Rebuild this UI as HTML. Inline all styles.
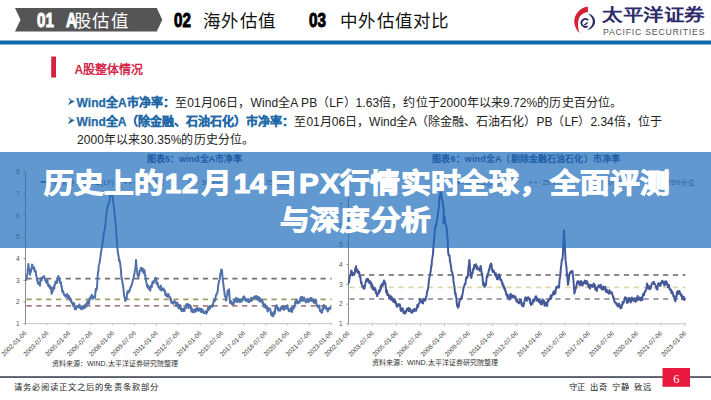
<!DOCTYPE html>
<html lang="zh-CN"><head><meta charset="utf-8">
<style>
*{margin:0;padding:0;box-sizing:border-box}
html,body{width:711px;height:400px;overflow:hidden;background:#fff}
body{position:relative;font-family:"Liberation Sans",sans-serif;color:#222}
.a{position:absolute;white-space:nowrap}
.yl{font-size:6.5px;fill:#555;font-family:"Liberation Sans",sans-serif}
.xl{font-size:6.4px;fill:#444;font-family:"Liberation Sans",sans-serif}
.tab{font-size:17.5px;letter-spacing:1.3px;color:#111;line-height:20px}
.num{font-weight:bold;font-size:20px;line-height:20px;transform:scaleX(0.76);transform-origin:left;-webkit-text-stroke:1px currentColor}
.bl{font-size:12px;line-height:19px;color:#222;letter-spacing:0.08px}
.bl b{color:#1f69a6;-webkit-text-stroke:0.25px #1f69a6}
.arr{color:#1f69a6;font-size:10px}
#band{position:absolute;left:0;top:152px;width:711px;height:95.5px;background:rgba(30,108,188,0.7)}
.tt1{position:absolute;left:0;width:711px;height:37px;color:#fff;font-weight:bold;font-size:27px;line-height:37px;-webkit-text-stroke:1px #fff}
.tt1 span{position:absolute;top:0;width:40px;text-align:center;transform:scaleX(1.1)}
.tt{position:absolute;left:0;width:711px;text-align:center;color:#fff;font-weight:bold;font-size:27px;line-height:37px;-webkit-text-stroke:1px #fff;transform:scaleX(1.1);letter-spacing:0.4px}
</style></head><body>
<svg class="a" style="left:0;top:0" width="711" height="400" viewBox="0 0 711 400">
<polygon points="15,8 156.8,8 162.3,19.7 156.8,31.5 15,31.5 20.5,19.7" fill="#555555"/>
<rect x="0" y="40.5" width="711" height="4" fill="#0f67ac"/>
<path d="M587.8,6.5 C579,8 574,15 574.3,22 C574.6,27.5 577.5,31 579.5,33 C577.8,28 577.2,22 579.5,17 C581.5,13.8 584.8,12.3 588,12 Z" fill="#d42035"/>
<path d="M588,13.5 C592.5,14.5 595.5,18 595,22.5 C594.5,26.5 591,29.5 587,30 C590,28 592.5,25.5 592.8,22 C593,18.5 591,16 588,13.5 Z" fill="#262a66"/>
<path d="M588.2,20.2 A3.9,3.9 0 1 0 587.6,26.2" fill="none" stroke="#262a66" stroke-width="1.8"/>
<path d="M584.3,25.2 L587.5,22.5" stroke="#262a66" stroke-width="1.5"/>
<rect x="51.2" y="56.5" width="4.8" height="21" fill="#d8213f"/>
<path d="M67.6,97.2 L74.8,101.3 L70.3,101.6 Z" fill="#6f9cc0"/><path d="M70.3,101.1 L74.8,101.3 L67.8,105.3 Z" fill="#1d5a88"/>
<path d="M67.6,116.2 L74.8,120.3 L70.3,120.6 Z" fill="#6f9cc0"/><path d="M70.3,120.1 L74.8,120.3 L67.8,124.3 Z" fill="#1d5a88"/>
<line x1="25.5" y1="172" x2="25.5" y2="323.6" stroke="#8c8c8c" stroke-width="1"/>
<line x1="25.5" y1="323.6" x2="332" y2="323.6" stroke="#c4c4c4" stroke-width="1"/>
<line x1="23.5" y1="323.6" x2="25.5" y2="323.6" stroke="#8c8c8c" stroke-width="1"/>
<text x="19.5" y="325.9" text-anchor="end" class="yl">1</text>
<line x1="23.5" y1="301.9" x2="25.5" y2="301.9" stroke="#8c8c8c" stroke-width="1"/>
<text x="19.5" y="304.2" text-anchor="end" class="yl">2</text>
<line x1="23.5" y1="280.3" x2="25.5" y2="280.3" stroke="#8c8c8c" stroke-width="1"/>
<text x="19.5" y="282.6" text-anchor="end" class="yl">3</text>
<line x1="23.5" y1="258.6" x2="25.5" y2="258.6" stroke="#8c8c8c" stroke-width="1"/>
<text x="19.5" y="260.9" text-anchor="end" class="yl">4</text>
<line x1="23.5" y1="237.0" x2="25.5" y2="237.0" stroke="#8c8c8c" stroke-width="1"/>
<text x="19.5" y="239.3" text-anchor="end" class="yl">5</text>
<line x1="23.5" y1="215.3" x2="25.5" y2="215.3" stroke="#8c8c8c" stroke-width="1"/>
<text x="19.5" y="217.6" text-anchor="end" class="yl">6</text>
<line x1="23.5" y1="193.7" x2="25.5" y2="193.7" stroke="#8c8c8c" stroke-width="1"/>
<text x="19.5" y="196.0" text-anchor="end" class="yl">7</text>
<line x1="23.5" y1="172.0" x2="25.5" y2="172.0" stroke="#8c8c8c" stroke-width="1"/>
<text x="19.5" y="174.3" text-anchor="end" class="yl">8</text>
<line x1="25.3" y1="323.6" x2="25.3" y2="325.6" stroke="#c4c4c4" stroke-width="1"/>
<text transform="translate(27.1,333.6) rotate(-45)" text-anchor="end" class="xl">2002-01-06</text>
<line x1="47.2" y1="323.6" x2="47.2" y2="325.6" stroke="#c4c4c4" stroke-width="1"/>
<text transform="translate(49.0,333.6) rotate(-45)" text-anchor="end" class="xl">2003-07-06</text>
<line x1="69.0" y1="323.6" x2="69.0" y2="325.6" stroke="#c4c4c4" stroke-width="1"/>
<text transform="translate(70.8,333.6) rotate(-45)" text-anchor="end" class="xl">2005-01-06</text>
<line x1="90.9" y1="323.6" x2="90.9" y2="325.6" stroke="#c4c4c4" stroke-width="1"/>
<text transform="translate(92.7,333.6) rotate(-45)" text-anchor="end" class="xl">2006-07-06</text>
<line x1="112.7" y1="323.6" x2="112.7" y2="325.6" stroke="#c4c4c4" stroke-width="1"/>
<text transform="translate(114.5,333.6) rotate(-45)" text-anchor="end" class="xl">2008-01-06</text>
<line x1="134.6" y1="323.6" x2="134.6" y2="325.6" stroke="#c4c4c4" stroke-width="1"/>
<text transform="translate(136.4,333.6) rotate(-45)" text-anchor="end" class="xl">2009-07-06</text>
<line x1="156.5" y1="323.6" x2="156.5" y2="325.6" stroke="#c4c4c4" stroke-width="1"/>
<text transform="translate(158.3,333.6) rotate(-45)" text-anchor="end" class="xl">2011-01-06</text>
<line x1="178.3" y1="323.6" x2="178.3" y2="325.6" stroke="#c4c4c4" stroke-width="1"/>
<text transform="translate(180.1,333.6) rotate(-45)" text-anchor="end" class="xl">2012-07-06</text>
<line x1="200.2" y1="323.6" x2="200.2" y2="325.6" stroke="#c4c4c4" stroke-width="1"/>
<text transform="translate(202.0,333.6) rotate(-45)" text-anchor="end" class="xl">2014-01-06</text>
<line x1="222.0" y1="323.6" x2="222.0" y2="325.6" stroke="#c4c4c4" stroke-width="1"/>
<text transform="translate(223.8,333.6) rotate(-45)" text-anchor="end" class="xl">2015-07-06</text>
<line x1="243.9" y1="323.6" x2="243.9" y2="325.6" stroke="#c4c4c4" stroke-width="1"/>
<text transform="translate(245.7,333.6) rotate(-45)" text-anchor="end" class="xl">2017-01-06</text>
<line x1="265.8" y1="323.6" x2="265.8" y2="325.6" stroke="#c4c4c4" stroke-width="1"/>
<text transform="translate(267.6,333.6) rotate(-45)" text-anchor="end" class="xl">2018-07-06</text>
<line x1="287.6" y1="323.6" x2="287.6" y2="325.6" stroke="#c4c4c4" stroke-width="1"/>
<text transform="translate(289.4,333.6) rotate(-45)" text-anchor="end" class="xl">2020-01-06</text>
<line x1="309.5" y1="323.6" x2="309.5" y2="325.6" stroke="#c4c4c4" stroke-width="1"/>
<text transform="translate(311.3,333.6) rotate(-45)" text-anchor="end" class="xl">2021-07-06</text>
<line x1="331.3" y1="323.6" x2="331.3" y2="325.6" stroke="#c4c4c4" stroke-width="1"/>
<text transform="translate(333.1,333.6) rotate(-45)" text-anchor="end" class="xl">2023-01-06</text>
<line x1="26.5" y1="278.7" x2="331.5" y2="278.7" stroke="#707070" stroke-width="1.8" stroke-dasharray="5.2,4.6"/>
<line x1="26.5" y1="299.3" x2="331.5" y2="299.3" stroke="#a39a62" stroke-width="1.8" stroke-dasharray="5.2,4.6"/>
<line x1="26.5" y1="305.8" x2="331.5" y2="305.8" stroke="#a88080" stroke-width="1.8" stroke-dasharray="5.2,4.6"/>
<polyline points="26.0,280.7 26.4,279.3 26.8,276.3 27.2,274.8 27.6,272.7 28.0,267.7 28.4,264.0 28.8,269.1 29.2,269.0 29.6,269.9 30.0,274.8 30.4,272.1 30.8,272.0 31.2,269.3 31.6,268.2 32.0,264.6 32.4,264.8 32.8,267.3 33.1,267.2 33.5,268.8 33.9,269.6 34.3,267.5 34.6,270.8 35.0,271.7 35.4,271.5 35.8,271.0 36.1,275.6 36.5,276.2 36.9,278.4 37.2,280.7 37.6,281.6 38.0,283.7 38.4,281.8 38.8,283.4 39.2,282.5 39.6,284.8 40.0,285.6 40.4,281.0 40.8,278.9 41.2,277.9 41.6,280.5 42.0,278.2 42.4,278.5 42.8,276.9 43.2,277.2 43.6,276.6 44.0,276.1 44.4,277.5 44.8,278.2 45.1,280.2 45.5,280.1 45.9,281.5 46.2,281.9 46.6,282.9 47.0,282.0 47.4,279.9 47.7,283.1 48.1,285.3 48.4,286.3 48.8,285.6 49.1,286.6 49.5,285.1 49.9,288.1 50.2,288.5 50.6,287.8 50.9,287.1 51.3,291.2 51.6,293.8 52.0,291.0 52.4,292.2 52.8,290.2 53.1,287.7 53.5,286.9 53.9,288.4 54.2,288.8 54.6,284.4 55.0,285.0 55.4,281.8 55.8,283.3 56.1,281.3 56.5,282.6 56.9,282.9 57.2,280.0 57.6,280.8 58.0,277.0 58.4,276.0 58.8,278.8 59.1,277.7 59.5,278.7 59.9,280.8 60.2,283.1 60.6,282.4 61.0,282.2 61.4,286.9 61.8,286.6 62.1,290.4 62.5,292.1 62.9,290.9 63.2,291.7 63.6,292.9 64.0,294.7 64.4,294.8 64.8,294.8 65.1,295.1 65.5,296.9 65.9,295.5 66.2,294.7 66.6,295.9 67.0,294.1 67.4,294.4 67.8,298.1 68.1,297.6 68.5,298.0 68.9,296.0 69.2,297.6 69.6,299.4 70.0,297.7 70.4,300.2 70.8,301.5 71.1,299.6 71.5,301.9 71.9,302.3 72.2,303.8 72.6,303.1 73.0,304.8 73.4,306.1 73.8,303.5 74.1,303.1 74.5,306.4 74.9,309.3 75.2,307.3 75.6,308.0 76.0,309.3 76.4,307.9 76.8,307.3 77.1,306.7 77.5,306.4 77.9,307.2 78.2,305.8 78.6,305.5 79.0,307.0 79.4,304.4 79.8,306.4 80.1,308.1 80.5,306.9 80.9,306.3 81.2,309.2 81.6,307.7 82.0,307.2 82.4,307.7 82.7,308.9 83.1,306.2 83.5,306.1 83.8,305.9 84.2,308.0 84.5,306.6 84.9,307.8 85.3,304.7 85.6,304.2 86.0,305.3 86.4,306.6 86.8,304.7 87.1,302.7 87.5,301.3 87.9,302.5 88.2,301.0 88.6,303.3 89.0,303.9 89.4,299.8 89.8,297.8 90.2,298.8 90.6,297.4 91.0,296.8 91.4,295.7 91.8,294.8 92.2,295.8 92.6,299.0 93.0,298.2 93.4,297.4 93.8,297.0 94.2,296.6 94.6,295.9 95.0,297.8 95.4,292.8 95.8,288.9 96.2,290.6 96.6,289.4 97.0,288.1 97.5,278.3 98.0,272.4 98.4,270.7 98.8,265.2 99.1,264.3 99.5,263.0 99.9,260.6 100.3,257.9 100.7,254.7 101.0,252.6 101.4,250.2 101.8,247.3 102.2,245.7 102.7,241.3 103.1,239.8 103.5,233.2 103.9,233.8 104.2,231.4 104.6,230.0 105.0,227.8 105.4,224.9 105.8,220.4 106.2,214.1 106.6,213.5 107.0,208.6 107.4,206.9 107.8,206.9 108.2,205.2 108.6,203.0 109.0,203.7 109.4,201.2 109.8,198.0 110.1,195.4 110.5,196.3 111.0,193.8 111.5,193.5 112.0,193.8 112.5,194.5 113.0,199.1 113.4,204.4 113.8,204.9 114.2,210.0 114.6,214.4 115.0,217.3 115.3,222.4 115.7,223.5 116.1,230.1 116.4,236.8 116.8,238.7 117.1,243.8 117.5,249.0 117.9,252.5 118.3,254.6 118.7,257.0 119.0,260.8 119.4,259.8 119.8,261.2 120.2,263.9 120.5,266.6 120.9,269.0 121.3,275.9 121.6,279.5 122.0,278.8 122.4,282.2 122.8,284.2 123.2,286.6 123.5,289.4 123.9,293.5 124.3,296.3 124.7,297.5 125.0,298.6 125.4,301.1 125.8,298.7 126.1,299.0 126.5,298.8 126.9,296.2 127.2,292.9 127.6,291.2 128.0,291.3 128.4,292.0 128.7,292.6 129.1,290.4 129.5,291.2 129.9,290.1 130.2,288.3 130.6,286.9 131.0,286.6 131.4,286.4 131.8,284.2 132.1,283.9 132.5,281.9 132.9,279.3 133.3,279.0 133.6,278.9 134.0,275.0 134.4,274.5 134.8,270.9 135.2,269.2 135.6,266.4 136.0,260.1 136.4,265.4 136.7,269.1 137.1,270.1 137.4,273.8 137.8,275.8 138.2,277.0 138.5,275.8 138.9,275.4 139.3,273.9 139.6,271.8 140.0,270.4 140.4,270.0 140.8,267.9 141.2,269.7 141.5,267.8 141.9,268.1 142.3,271.4 142.7,269.3 143.0,269.0 143.4,269.1 143.8,273.2 144.1,271.4 144.5,270.3 144.9,275.2 145.3,274.5 145.6,278.7 146.0,280.4 146.4,282.7 146.8,285.1 147.1,285.1 147.5,287.2 147.9,285.2 148.3,288.0 148.7,288.0 149.2,289.3 149.6,287.1 150.0,289.7 150.3,290.6 150.7,286.3 151.1,285.6 151.4,286.1 151.8,287.0 152.1,284.1 152.4,282.3 152.8,281.6 153.2,282.6 153.5,283.2 153.9,281.6 154.3,280.7 154.7,280.3 155.0,279.7 155.4,279.6 155.8,277.7 156.2,280.0 156.5,283.5 156.9,282.5 157.2,284.3 157.6,282.6 157.9,285.0 158.3,286.7 158.6,287.4 159.0,287.3 159.3,287.1 159.7,288.0 160.1,289.6 160.4,286.8 160.8,285.6 161.1,288.5 161.4,290.5 161.8,289.4 162.2,288.8 162.5,290.1 162.9,288.4 163.3,288.5 163.6,288.5 164.0,290.7 164.4,290.5 164.8,290.4 165.1,292.8 165.5,295.3 165.9,293.3 166.3,294.9 166.7,294.4 167.0,296.7 167.4,296.5 167.8,295.2 168.2,294.9 168.5,294.1 168.9,296.4 169.3,297.1 169.7,296.6 170.0,297.7 170.4,298.2 170.8,300.9 171.1,299.1 171.5,302.9 171.9,302.1 172.2,302.7 172.6,302.6 173.0,303.7 173.4,303.8 173.8,302.3 174.2,301.1 174.6,301.6 175.0,302.1 175.5,301.8 176.0,304.2 176.4,306.0 176.7,304.5 177.1,303.1 177.5,302.8 177.8,305.3 178.2,306.2 178.5,308.1 178.9,308.5 179.3,305.9 179.6,305.0 180.0,305.3 180.4,305.3 180.7,308.0 181.1,309.9 181.5,311.0 181.8,308.5 182.2,310.8 182.5,309.2 182.9,309.4 183.3,311.2 183.6,309.0 184.0,308.5 184.4,311.0 184.8,308.8 185.1,307.8 185.5,308.1 185.9,308.1 186.2,304.4 186.6,304.2 187.0,304.2 187.4,304.9 187.8,304.0 188.1,305.6 188.5,308.1 188.9,306.5 189.2,306.8 189.6,305.0 190.0,305.3 190.4,307.7 190.8,306.2 191.1,309.7 191.5,311.4 191.9,308.4 192.2,311.7 192.6,310.5 193.0,312.3 193.4,312.4 193.8,310.1 194.1,311.0 194.5,311.0 194.9,311.6 195.2,309.0 195.6,310.3 196.0,311.6 196.4,310.8 196.7,310.0 197.1,307.7 197.5,308.8 197.8,308.5 198.2,310.3 198.5,310.7 198.9,310.4 199.3,308.5 199.6,310.2 200.0,310.7 200.4,308.8 200.8,311.7 201.1,311.6 201.5,309.1 201.9,312.2 202.2,309.6 202.6,309.7 203.0,311.6 203.4,312.1 203.7,312.4 204.1,313.2 204.5,312.8 204.9,312.3 205.2,311.7 205.6,311.3 206.0,313.3 206.4,313.6 206.8,312.1 207.2,312.0 207.6,309.6 208.0,307.8 208.4,307.8 208.8,309.9 209.1,306.6 209.5,307.4 209.9,306.3 210.2,308.3 210.6,306.8 211.0,306.1 211.4,305.7 211.8,305.9 212.1,306.8 212.5,304.7 212.9,306.1 213.2,302.7 213.6,301.9 214.0,300.5 214.4,299.1 214.8,301.0 215.2,300.6 215.6,297.1 216.0,295.1 216.4,294.2 216.8,294.3 217.1,293.5 217.5,291.8 217.9,289.3 218.2,285.2 218.6,283.8 219.0,281.2 219.3,280.5 219.7,279.2 220.1,275.6 220.4,273.3 220.8,274.0 221.2,269.5 221.6,270.5 222.0,270.1 222.5,277.4 223.0,281.5 223.5,285.4 224.0,289.5 224.4,291.8 224.8,295.6 225.2,296.8 225.6,296.7 226.0,300.6 226.4,297.9 226.8,296.5 227.2,295.5 227.6,290.7 228.0,291.6 228.5,291.0 229.0,289.3 229.5,296.2 230.0,302.9 230.4,301.7 230.8,303.0 231.2,301.2 231.6,303.0 232.0,304.4 232.4,303.3 232.8,303.1 233.2,304.5 233.6,304.3 234.0,300.2 234.4,302.0 234.7,301.8 235.1,298.9 235.5,299.3 235.8,298.8 236.2,297.8 236.5,299.6 236.9,302.1 237.3,300.0 237.6,301.8 238.0,301.5 238.4,298.7 238.7,301.1 239.1,300.7 239.5,302.0 239.8,301.4 240.2,301.3 240.5,299.2 240.9,300.7 241.3,301.8 241.6,301.7 242.0,299.6 242.4,300.5 242.7,299.6 243.1,297.5 243.5,296.6 243.8,296.4 244.2,297.1 244.5,297.1 244.9,298.8 245.3,300.5 245.6,300.3 246.0,299.8 246.4,300.7 246.7,299.5 247.1,299.9 247.5,301.5 247.8,300.4 248.2,299.0 248.5,302.0 248.9,302.3 249.3,300.7 249.6,300.3 250.0,300.9 250.4,301.3 250.7,299.5 251.1,297.8 251.5,298.0 251.8,300.8 252.2,298.6 252.5,299.3 252.9,298.1 253.3,297.7 253.6,297.3 254.0,298.1 254.4,297.3 254.7,296.3 255.1,296.4 255.5,296.6 255.8,298.3 256.2,296.7 256.5,296.0 256.9,297.8 257.3,298.2 257.6,299.7 258.0,297.1 258.4,298.2 258.7,298.7 259.1,297.3 259.4,301.5 259.8,299.6 260.1,298.5 260.4,300.2 260.8,299.5 261.1,301.6 261.5,301.2 261.9,300.3 262.2,299.9 262.6,303.3 263.0,302.5 263.3,305.0 263.7,304.5 264.1,306.9 264.4,304.9 264.8,304.2 265.2,304.5 265.6,307.6 266.0,308.1 266.4,307.3 266.8,306.2 267.2,308.9 267.6,311.6 268.0,311.1 268.4,308.5 268.8,308.0 269.2,308.5 269.6,309.4 270.0,309.1 270.4,309.3 270.8,312.5 271.2,314.9 271.6,312.6 272.0,315.7 272.4,314.2 272.7,315.2 273.1,316.0 273.4,316.3 273.8,312.0 274.1,311.7 274.5,313.0 274.9,313.5 275.2,308.4 275.6,306.6 276.0,307.5 276.4,305.2 276.7,306.0 277.1,306.2 277.5,308.2 277.9,310.3 278.2,307.7 278.6,309.7 279.0,310.1 279.4,310.6 279.8,309.4 280.2,310.6 280.6,308.3 281.0,307.7 281.4,306.7 281.7,309.0 282.1,308.5 282.5,307.3 282.8,306.5 283.2,308.9 283.6,309.3 283.9,309.9 284.3,308.7 284.7,308.5 285.0,306.7 285.4,308.6 285.7,305.9 286.1,306.9 286.4,308.5 286.8,308.6 287.1,305.7 287.5,305.2 287.9,308.4 288.2,308.8 288.6,310.3 288.9,311.0 289.3,309.5 289.6,311.4 290.0,311.5 290.4,309.6 290.8,309.2 291.2,307.7 291.6,308.8 292.0,312.0 292.4,309.1 292.8,309.7 293.2,307.4 293.6,306.0 294.0,307.9 294.4,306.2 294.8,304.4 295.2,301.7 295.6,301.3 296.0,302.0 296.4,299.5 296.8,299.8 297.2,303.5 297.6,301.4 298.0,302.3 298.4,301.6 298.7,302.9 299.1,302.2 299.4,302.7 299.8,301.4 300.1,299.1 300.5,298.0 300.9,297.2 301.2,300.4 301.6,298.0 302.0,296.7 302.3,300.7 302.7,298.3 303.1,300.8 303.4,297.7 303.8,298.3 304.2,297.6 304.5,300.4 304.9,300.5 305.2,300.8 305.6,301.5 305.9,302.5 306.3,300.4 306.6,301.0 307.0,300.6 307.4,298.7 307.7,301.4 308.1,301.2 308.5,302.1 308.8,299.4 309.2,300.0 309.6,299.8 309.9,300.9 310.3,298.1 310.7,298.6 311.0,299.5 311.4,297.9 311.7,299.7 312.1,301.2 312.4,300.4 312.8,301.2 313.1,301.4 313.5,299.6 313.9,299.9 314.2,303.2 314.6,301.4 315.0,301.4 315.3,299.9 315.7,300.1 316.1,300.1 316.4,304.0 316.8,304.5 317.2,305.7 317.6,307.0 318.0,305.9 318.4,307.3 318.8,306.2 319.2,305.5 319.6,308.6 319.9,310.1 320.2,311.4 320.6,310.3 320.9,311.9 321.3,311.3 321.7,312.8 322.1,312.4 322.5,308.7 322.9,309.9 323.3,306.2 323.7,305.0 324.1,307.6 324.5,306.6 324.9,307.5 325.3,308.4 325.7,306.0 326.1,308.8 326.4,307.8 326.8,308.4 327.1,308.4 327.5,310.5 327.8,311.5 328.2,309.9 328.6,308.2 329.0,308.4 329.4,309.0 329.8,307.5 330.2,307.2 330.6,309.6" fill="none" stroke="#4f70a8" stroke-width="2" stroke-linejoin="round"/>
<line x1="348.5" y1="186" x2="348.5" y2="323.8" stroke="#8c8c8c" stroke-width="1"/>
<line x1="348.5" y1="323.8" x2="686" y2="323.8" stroke="#c4c4c4" stroke-width="1"/>
<line x1="346.5" y1="323.8" x2="348.5" y2="323.8" stroke="#8c8c8c" stroke-width="1"/>
<text x="342.5" y="326.1" text-anchor="end" class="yl">1</text>
<line x1="346.5" y1="304.1" x2="348.5" y2="304.1" stroke="#8c8c8c" stroke-width="1"/>
<text x="342.5" y="306.4" text-anchor="end" class="yl">2</text>
<line x1="346.5" y1="284.4" x2="348.5" y2="284.4" stroke="#8c8c8c" stroke-width="1"/>
<text x="342.5" y="286.7" text-anchor="end" class="yl">3</text>
<line x1="346.5" y1="264.7" x2="348.5" y2="264.7" stroke="#8c8c8c" stroke-width="1"/>
<text x="342.5" y="267.0" text-anchor="end" class="yl">4</text>
<line x1="346.5" y1="245.1" x2="348.5" y2="245.1" stroke="#8c8c8c" stroke-width="1"/>
<text x="342.5" y="247.4" text-anchor="end" class="yl">5</text>
<line x1="346.5" y1="225.4" x2="348.5" y2="225.4" stroke="#8c8c8c" stroke-width="1"/>
<text x="342.5" y="227.7" text-anchor="end" class="yl">6</text>
<line x1="346.5" y1="205.7" x2="348.5" y2="205.7" stroke="#8c8c8c" stroke-width="1"/>
<text x="342.5" y="208.0" text-anchor="end" class="yl">7</text>
<line x1="346.5" y1="186.0" x2="348.5" y2="186.0" stroke="#8c8c8c" stroke-width="1"/>
<text x="342.5" y="188.3" text-anchor="end" class="yl">8</text>
<line x1="348.3" y1="323.8" x2="348.3" y2="325.8" stroke="#c4c4c4" stroke-width="1"/>
<text transform="translate(350.1,333.8) rotate(-45)" text-anchor="end" class="xl">2002-01-06</text>
<line x1="372.4" y1="323.8" x2="372.4" y2="325.8" stroke="#c4c4c4" stroke-width="1"/>
<text transform="translate(374.2,333.8) rotate(-45)" text-anchor="end" class="xl">2003-07-06</text>
<line x1="396.4" y1="323.8" x2="396.4" y2="325.8" stroke="#c4c4c4" stroke-width="1"/>
<text transform="translate(398.2,333.8) rotate(-45)" text-anchor="end" class="xl">2005-01-06</text>
<line x1="420.5" y1="323.8" x2="420.5" y2="325.8" stroke="#c4c4c4" stroke-width="1"/>
<text transform="translate(422.3,333.8) rotate(-45)" text-anchor="end" class="xl">2006-07-06</text>
<line x1="444.5" y1="323.8" x2="444.5" y2="325.8" stroke="#c4c4c4" stroke-width="1"/>
<text transform="translate(446.3,333.8) rotate(-45)" text-anchor="end" class="xl">2008-01-06</text>
<line x1="468.6" y1="323.8" x2="468.6" y2="325.8" stroke="#c4c4c4" stroke-width="1"/>
<text transform="translate(470.4,333.8) rotate(-45)" text-anchor="end" class="xl">2009-07-06</text>
<line x1="492.6" y1="323.8" x2="492.6" y2="325.8" stroke="#c4c4c4" stroke-width="1"/>
<text transform="translate(494.4,333.8) rotate(-45)" text-anchor="end" class="xl">2011-01-06</text>
<line x1="516.6" y1="323.8" x2="516.6" y2="325.8" stroke="#c4c4c4" stroke-width="1"/>
<text transform="translate(518.4,333.8) rotate(-45)" text-anchor="end" class="xl">2012-07-06</text>
<line x1="540.7" y1="323.8" x2="540.7" y2="325.8" stroke="#c4c4c4" stroke-width="1"/>
<text transform="translate(542.5,333.8) rotate(-45)" text-anchor="end" class="xl">2014-01-06</text>
<line x1="564.8" y1="323.8" x2="564.8" y2="325.8" stroke="#c4c4c4" stroke-width="1"/>
<text transform="translate(566.5,333.8) rotate(-45)" text-anchor="end" class="xl">2015-07-06</text>
<line x1="588.8" y1="323.8" x2="588.8" y2="325.8" stroke="#c4c4c4" stroke-width="1"/>
<text transform="translate(590.6,333.8) rotate(-45)" text-anchor="end" class="xl">2017-01-06</text>
<line x1="612.9" y1="323.8" x2="612.9" y2="325.8" stroke="#c4c4c4" stroke-width="1"/>
<text transform="translate(614.6,333.8) rotate(-45)" text-anchor="end" class="xl">2018-07-06</text>
<line x1="636.9" y1="323.8" x2="636.9" y2="325.8" stroke="#c4c4c4" stroke-width="1"/>
<text transform="translate(638.7,333.8) rotate(-45)" text-anchor="end" class="xl">2020-01-06</text>
<line x1="661.0" y1="323.8" x2="661.0" y2="325.8" stroke="#c4c4c4" stroke-width="1"/>
<text transform="translate(662.8,333.8) rotate(-45)" text-anchor="end" class="xl">2021-07-06</text>
<line x1="685.0" y1="323.8" x2="685.0" y2="325.8" stroke="#c4c4c4" stroke-width="1"/>
<text transform="translate(686.8,333.8) rotate(-45)" text-anchor="end" class="xl">2023-01-06</text>
<line x1="349.5" y1="275" x2="685.5" y2="275" stroke="#8a8a8a" stroke-width="1.8" stroke-dasharray="5.2,4.6"/>
<line x1="349.5" y1="287.4" x2="685.5" y2="287.4" stroke="#dcd8a8" stroke-width="1.8" stroke-dasharray="5.2,4.6"/>
<line x1="349.5" y1="299" x2="685.5" y2="299" stroke="#9ca2b4" stroke-width="1.8" stroke-dasharray="5.2,4.6"/>
<polyline points="348.6,283.6 349.1,281.0 349.5,278.2 350.0,275.8 350.4,274.7 350.8,275.0 351.2,270.5 351.6,270.8 352.0,272.9 352.4,273.4 352.8,275.4 353.2,273.0 353.6,274.5 354.0,274.6 354.4,274.1 354.8,273.1 355.2,269.0 355.6,267.5 356.0,266.2 356.4,270.2 356.8,271.4 357.2,269.4 357.6,272.3 358.0,270.6 358.4,273.1 358.8,272.2 359.2,272.0 359.6,276.7 360.0,275.9 360.4,276.5 360.8,281.2 361.1,283.1 361.5,281.8 361.9,285.4 362.2,285.4 362.6,286.9 363.0,286.0 363.4,288.4 363.8,287.7 364.2,288.6 364.6,288.3 365.0,285.0 365.4,283.5 365.8,281.6 366.2,280.3 366.6,278.9 367.0,279.0 367.4,280.9 367.8,278.8 368.1,281.4 368.5,280.7 368.9,280.4 369.2,282.9 369.6,282.2 370.0,281.2 370.4,282.4 370.8,284.4 371.1,282.4 371.5,286.6 371.9,284.0 372.2,287.1 372.6,289.1 373.0,286.3 373.4,289.4 373.8,288.8 374.2,290.1 374.6,288.1 375.0,288.0 375.4,288.8 375.8,293.0 376.1,291.1 376.5,293.4 376.9,295.2 377.2,296.2 377.6,293.9 378.0,293.4 378.4,293.0 378.8,293.5 379.1,289.9 379.5,291.2 379.9,291.3 380.2,291.1 380.6,286.5 381.0,288.6 381.4,284.9 381.8,284.3 382.1,284.8 382.5,286.0 382.9,283.2 383.2,284.5 383.6,282.7 384.0,280.4 384.4,281.4 384.8,282.1 385.1,282.8 385.5,284.4 385.9,288.5 386.2,292.4 386.6,290.7 387.0,290.6 387.4,295.1 387.8,294.9 388.1,294.7 388.5,294.2 388.9,296.1 389.2,298.3 389.6,297.7 390.0,297.7 390.4,295.9 390.8,299.5 391.1,296.6 391.5,297.8 391.9,300.0 392.2,297.5 392.6,299.5 393.0,301.4 393.4,301.0 393.8,301.9 394.1,299.3 394.5,300.3 394.9,299.6 395.2,303.0 395.6,301.9 396.0,302.5 396.4,305.5 396.8,306.0 397.1,306.9 397.5,304.9 397.9,304.5 398.2,305.7 398.6,305.1 399.0,304.1 399.4,304.9 399.8,304.3 400.1,305.6 400.5,309.4 400.9,311.0 401.2,310.4 401.6,309.9 402.0,309.4 402.4,308.1 402.8,308.6 403.1,311.5 403.5,313.0 403.9,311.3 404.2,312.9 404.6,313.6 405.0,313.6 405.4,312.8 405.8,312.7 406.1,310.4 406.5,311.0 406.9,308.8 407.2,308.7 407.6,309.7 408.0,309.3 408.4,308.0 408.8,311.0 409.1,310.9 409.5,310.9 409.9,308.5 410.2,310.5 410.6,310.1 411.0,312.3 411.4,311.6 411.8,312.8 412.1,312.1 412.5,312.4 412.9,310.0 413.2,310.4 413.6,310.7 414.0,311.1 414.4,308.7 414.8,310.1 415.1,310.6 415.5,309.7 415.9,310.6 416.2,310.7 416.6,308.5 417.0,307.6 417.4,304.7 417.8,306.4 418.1,306.9 418.5,304.3 418.9,303.8 419.2,303.2 419.6,302.5 420.0,299.0 420.4,301.2 420.8,301.2 421.1,301.8 421.5,301.0 421.9,301.8 422.2,303.0 422.6,302.9 423.0,303.5 423.4,299.9 423.8,299.0 424.1,299.8 424.5,300.8 424.9,298.9 425.2,300.2 425.6,300.2 426.0,297.1 426.4,296.6 426.8,294.2 427.2,291.5 427.6,289.9 428.0,289.2 428.4,285.6 428.8,282.4 429.2,278.4 429.6,277.0 430.0,274.0 430.4,272.7 430.8,270.5 431.1,266.4 431.5,266.6 431.9,260.6 432.2,258.9 432.6,256.1 433.0,254.1 433.5,245.3 434.0,240.8 434.5,234.2 435.0,226.7 435.4,227.9 435.8,225.3 436.2,226.0 436.6,222.1 437.0,219.6 437.4,218.2 437.8,215.8 438.1,211.4 438.5,210.1 438.9,206.4 439.2,201.6 439.6,196.6 440.0,194.8 440.5,192.7 441.0,192.3 441.5,197.0 442.0,199.6 442.5,200.8 443.0,205.8 443.7,209.7 443.4,223.5 443.8,222.6 444.1,220.7 444.5,215.9 444.9,219.4 445.2,223.1 445.6,223.2 446.0,224.7 446.4,226.6 446.8,229.5 447.1,235.7 447.5,237.0 448.2,252.7 448.6,255.1 449.1,255.6 449.5,255.3 449.9,260.8 450.2,262.2 450.6,264.1 451.0,266.1 451.4,271.0 451.8,271.7 452.2,272.2 452.6,274.6 453.1,276.4 453.5,281.6 454.0,284.7 454.4,286.3 454.8,290.8 455.2,294.1 455.6,292.9 456.0,296.6 456.4,298.2 456.8,303.5 457.2,306.1 457.6,306.1 458.0,307.7 458.4,304.9 458.8,306.6 459.2,302.6 459.6,301.4 460.0,299.0 460.4,299.3 460.8,298.9 461.2,299.2 461.6,296.1 462.0,297.8 462.4,294.3 462.8,292.9 463.2,290.2 463.6,287.7 464.0,286.7 464.4,285.5 464.8,283.8 465.2,284.3 465.6,283.0 466.0,279.0 466.4,277.5 466.8,276.9 467.2,277.9 467.6,277.1 468.0,274.1 468.5,266.7 468.9,265.0 469.4,259.9 469.8,264.6 470.2,269.6 470.6,273.8 471.0,277.3 471.4,277.9 471.8,274.8 472.2,272.9 472.6,273.7 473.0,270.1 473.4,268.3 473.8,269.3 474.2,265.1 474.6,266.4 475.0,265.3 475.4,264.7 475.8,264.2 476.2,266.8 476.6,268.7 477.0,266.1 477.4,267.4 477.8,268.7 478.2,269.4 478.6,269.4 479.0,269.1 479.4,269.9 479.8,270.8 480.2,267.0 480.6,266.0 481.0,267.9 481.4,271.5 481.8,274.0 482.2,273.6 482.6,278.6 483.0,283.5 483.4,285.5 483.8,285.5 484.2,283.2 484.6,286.9 485.0,286.1 485.4,285.4 485.8,285.3 486.2,282.8 486.6,277.9 487.0,275.6 487.4,277.3 487.8,273.5 488.2,273.5 488.6,271.8 489.0,269.2 489.4,270.0 489.8,266.8 490.2,265.3 490.6,265.5 491.0,263.4 491.4,264.0 491.8,267.3 492.2,269.9 492.6,272.1 493.0,270.0 493.4,270.7 493.8,270.7 494.2,272.3 494.6,272.6 495.0,275.1 495.4,274.3 495.8,273.3 496.2,276.8 496.6,276.2 497.0,279.1 497.4,278.3 497.8,279.4 498.2,277.6 498.6,276.7 499.0,274.2 499.4,276.2 499.8,276.2 500.2,279.4 500.6,280.2 501.0,279.4 501.4,280.0 501.8,281.3 502.2,284.1 502.6,282.9 503.0,285.6 503.4,287.1 503.8,285.7 504.2,288.8 504.6,287.9 505.0,288.5 505.4,291.4 505.8,291.2 506.2,294.7 506.6,294.6 507.0,294.3 507.4,297.0 507.8,294.8 508.2,297.8 508.6,296.2 509.0,296.6 509.4,299.5 509.8,298.7 510.2,295.7 510.6,293.7 511.0,296.5 511.4,296.7 511.8,297.8 512.2,295.2 512.6,296.8 513.0,296.4 513.4,295.7 513.8,296.1 514.2,297.7 514.6,297.1 515.0,297.2 515.4,296.4 515.8,299.7 516.2,300.2 516.6,301.4 517.0,300.3 517.4,302.2 517.8,301.5 518.2,301.9 518.6,302.2 519.0,303.4 519.4,302.2 519.8,300.5 520.2,299.7 520.6,300.3 521.0,299.9 521.4,304.4 521.8,304.4 522.2,306.1 522.6,303.5 523.0,305.2 523.4,306.4 523.8,304.7 524.2,302.5 524.6,301.1 525.0,298.0 525.4,297.5 525.8,297.3 526.1,298.2 526.5,298.4 526.9,300.8 527.2,298.1 527.6,297.5 528.0,297.4 528.4,297.3 528.8,298.2 529.1,298.6 529.5,300.2 529.9,299.0 530.2,303.2 530.6,302.3 531.0,305.0 531.4,304.2 531.8,303.6 532.1,302.2 532.5,303.8 532.9,300.1 533.2,301.2 533.6,299.5 534.0,300.5 534.4,301.2 534.8,298.6 535.1,297.8 535.5,296.6 535.9,297.1 536.2,296.4 536.6,297.7 537.0,300.8 537.4,299.3 537.8,298.8 538.1,299.7 538.5,299.3 538.9,301.6 539.2,302.5 539.6,300.5 540.0,300.3 540.4,302.2 540.8,304.2 541.1,303.5 541.5,302.2 541.9,304.3 542.2,300.5 542.6,299.4 543.0,302.4 543.4,302.1 543.8,300.5 544.1,302.6 544.5,305.7 544.9,304.7 545.2,303.8 545.6,302.5 546.0,302.2 546.4,305.6 546.8,304.5 547.1,306.1 547.5,302.1 547.9,301.4 548.2,300.0 548.6,300.9 549.0,299.4 549.4,299.2 549.8,299.3 550.1,298.4 550.5,296.4 550.9,295.1 551.2,298.7 551.6,295.6 552.0,295.6 552.4,294.9 552.8,294.9 553.1,292.5 553.5,292.4 553.9,291.1 554.2,292.3 554.6,294.3 555.0,293.1 555.4,293.3 555.8,289.8 556.2,287.1 556.6,288.1 557.0,287.7 557.4,287.6 557.8,286.3 558.2,286.6 558.6,286.8 559.0,287.4 559.4,281.7 559.8,278.3 560.2,276.9 560.6,271.4 561.0,266.9 561.4,264.2 561.8,260.0 562.2,259.8 562.6,257.9 563.0,252.7 563.5,241.1 564.0,230.3 564.4,237.8 564.8,244.2 565.2,252.7 565.6,260.9 566.1,264.4 566.5,267.8 567.0,275.1 567.5,278.9 568.0,284.8 568.4,282.2 568.8,279.8 569.2,275.6 569.6,273.8 570.1,272.4 570.5,273.1 571.0,271.5 571.5,272.4 571.9,271.1 572.4,270.8 572.8,274.0 573.2,277.1 573.6,282.5 574.0,287.3 574.4,293.6 574.8,292.0 575.2,290.7 575.6,287.5 576.0,288.3 576.4,286.1 576.8,283.6 577.2,281.9 577.6,281.3 578.0,281.0 578.4,283.5 578.8,282.8 579.2,281.8 579.6,285.0 580.0,285.4 580.4,282.5 580.8,281.3 581.2,281.0 581.6,281.7 582.0,284.1 582.4,285.8 582.8,284.8 583.2,282.8 583.6,283.2 584.0,283.1 584.4,282.5 584.8,280.5 585.2,282.2 585.6,283.8 586.0,283.6 586.4,281.0 586.8,282.5 587.2,281.5 587.6,284.0 588.0,283.9 588.4,286.7 588.8,287.3 589.2,284.7 589.6,285.1 590.0,288.6 590.4,286.8 590.8,285.6 591.2,284.9 591.6,285.8 592.0,286.5 592.4,285.2 592.8,287.0 593.2,286.0 593.6,283.4 594.0,286.0 594.4,286.0 594.8,284.8 595.2,289.5 595.6,287.3 596.0,289.8 596.4,289.4 596.8,291.0 597.2,288.9 597.6,287.1 598.0,286.5 598.4,285.6 598.8,286.8 599.2,286.0 599.6,287.3 600.0,285.1 600.4,285.2 600.8,284.8 601.2,288.4 601.6,289.1 602.0,289.5 602.4,288.8 602.8,287.8 603.2,286.5 603.6,289.6 604.0,289.3 604.4,287.1 604.8,287.1 605.2,286.9 605.6,289.9 606.0,292.0 606.4,289.4 606.8,291.6 607.2,290.2 607.6,291.5 608.0,293.0 608.4,292.7 608.8,293.6 609.1,292.2 609.5,290.2 609.9,292.1 610.2,293.4 610.6,292.2 611.0,293.0 611.4,293.3 611.8,292.3 612.1,293.7 612.5,294.8 612.9,296.0 613.2,297.8 613.6,297.3 614.0,300.2 614.4,301.1 614.8,302.4 615.2,302.3 615.6,302.7 616.0,302.7 616.4,304.5 616.8,303.5 617.2,304.8 617.6,306.2 618.0,306.5 618.4,305.3 618.8,303.9 619.1,303.6 619.5,304.8 619.9,306.4 620.2,307.9 620.6,308.3 621.0,306.6 621.4,308.1 621.8,305.0 622.2,305.5 622.6,302.1 623.0,303.6 623.4,302.4 623.8,302.4 624.2,301.0 624.6,298.5 625.0,297.3 625.4,298.1 625.8,298.6 626.2,297.6 626.6,299.5 627.0,302.8 627.4,300.3 627.8,302.8 628.1,301.6 628.5,300.3 628.9,297.9 629.2,298.9 629.6,298.1 630.0,300.0 630.4,301.8 630.8,302.4 631.1,301.1 631.5,299.5 631.9,297.5 632.2,299.5 632.6,299.5 633.0,300.2 633.4,298.9 633.8,301.0 634.1,298.6 634.5,298.3 634.9,298.1 635.2,299.8 635.6,301.8 636.0,299.1 636.4,299.9 636.8,300.6 637.1,298.0 637.5,296.1 637.9,297.6 638.2,299.2 638.6,299.7 639.0,298.9 639.4,297.7 639.8,297.5 640.2,298.2 640.6,300.6 641.0,298.7 641.4,297.5 641.8,298.3 642.2,300.1 642.6,296.7 643.0,294.5 643.4,293.5 643.8,294.7 644.2,294.9 644.6,292.4 645.0,291.0 645.4,291.2 645.8,290.4 646.2,289.3 646.6,288.1 647.0,283.4 647.4,284.6 647.8,286.9 648.1,288.4 648.5,286.1 648.9,288.0 649.2,287.8 649.6,289.3 650.0,286.6 650.4,287.5 650.8,288.4 651.1,286.8 651.5,284.3 651.9,283.7 652.2,283.1 652.6,282.5 653.0,282.4 653.4,284.0 653.8,281.8 654.2,283.7 654.6,283.9 655.0,284.0 655.4,285.2 655.8,285.8 656.2,287.7 656.6,289.1 657.0,288.7 657.4,289.6 657.8,285.6 658.1,284.0 658.5,283.1 658.9,283.3 659.2,284.1 659.6,284.5 660.0,285.6 660.4,286.0 660.8,282.7 661.1,282.9 661.5,283.4 661.9,282.5 662.2,280.7 662.6,282.1 663.0,281.3 663.4,282.8 663.8,282.5 664.1,284.7 664.5,285.4 664.9,281.6 665.2,283.6 665.6,284.2 666.0,282.5 666.4,281.4 666.8,282.9 667.1,283.1 667.5,285.3 667.9,287.2 668.2,285.5 668.6,284.7 669.0,285.7 669.4,287.8 669.8,289.7 670.2,290.0 670.6,289.4 671.0,290.0 671.4,293.1 671.8,293.2 672.2,291.4 672.6,293.1 673.0,293.4 673.4,296.4 673.8,295.4 674.2,296.8 674.6,297.2 675.0,300.0 675.4,301.4 675.8,298.7 676.2,296.0 676.6,296.6 677.0,291.7 677.4,291.9 677.8,294.1 678.2,291.0 678.6,293.6 679.0,292.5 679.4,291.1 679.8,292.1 680.2,293.9 680.6,294.5 681.0,295.8 681.4,294.4 681.8,295.1 682.2,299.3 682.6,298.7 683.0,299.0 683.4,296.8 683.8,296.8 684.2,300.0 684.6,299.6 685.0,298.0" fill="none" stroke="#45599a" stroke-width="2" stroke-linejoin="round"/>
<g font-size="6.5" fill="#404040" font-family="Liberation Sans, sans-serif">
<line x1="40.5" y1="182" x2="52" y2="182" stroke="#4f70a8" stroke-width="2"/>
<text x="54" y="185" font-size="7">wind全A市净率(LF)</text>
<line x1="124" y1="182.5" x2="135" y2="182.5" stroke="#707070" stroke-width="1.5" stroke-dasharray="3,2"/>
<text x="138" y="185">25%分位</text>
<line x1="188" y1="182.5" x2="199" y2="182.5" stroke="#a39a62" stroke-width="1.5" stroke-dasharray="3,2"/>
<text x="202" y="185">50%分位</text>
<line x1="252" y1="182.5" x2="263" y2="182.5" stroke="#a88080" stroke-width="1.5" stroke-dasharray="3,2"/>
<text x="266" y="185">75%分位</text>
<line x1="452" y1="182.5" x2="463" y2="182.5" stroke="#45599a" stroke-width="2"/>
<text x="466" y="185">市净率(LF)</text>
<line x1="529" y1="182.5" x2="540" y2="182.5" stroke="#8a8a8a" stroke-width="1.5" stroke-dasharray="3,2"/>
<text x="542.5" y="185">25%分位</text>
<line x1="591" y1="182.5" x2="602" y2="182.5" stroke="#dcd8a8" stroke-width="1.5" stroke-dasharray="3,2"/>
<text x="605" y="185">50%分位</text>
<line x1="653" y1="182.5" x2="664" y2="182.5" stroke="#9ca2b4" stroke-width="1.5" stroke-dasharray="3,2"/>
<text x="667.5" y="185">75%分位</text>
</g>

<rect x="0" y="376.2" width="711" height="1.7" fill="#464c5a"/>
<rect x="662.5" y="368" width="27.5" height="18.8" fill="#e8193c"/>
</svg>
<div class="a num" style="left:37px;top:9.7px;color:#fff">01</div>
<div class="a num" style="left:65.5px;top:9.7px;color:#fff">A</div>
<div class="a tab" style="left:74px;top:11px;color:#fff">股估值</div>
<div class="a num" style="left:174px;top:9.7px;color:#000">02</div>
<div class="a tab" style="left:203px;top:11px">海外估值</div>
<div class="a num" style="left:308.8px;top:9.7px;color:#000">03</div>
<div class="a tab" style="left:340px;top:11px">中外估值对比</div>
<div class="a" style="left:602px;top:0px;font-size:20.5px;line-height:26px;font-weight:bold;color:#2c2b6b;letter-spacing:0.5px;transform:scaleY(0.82);transform-origin:0 23px">太平洋证券</div>
<div class="a" style="left:603px;top:27px;font-size:8.7px;line-height:10px;color:#555;letter-spacing:0.78px">PACIFIC SECURITIES</div>
<div class="a" style="left:74.5px;top:62px;font-size:12px;line-height:17px;font-weight:bold;color:#d3284a">A股整体情况</div>
<div class="a bl" style="left:76.5px;top:94px"><b>Wind全A市净率：</b>至01月06日，Wind全A PB（LF）1.63倍，约位于2000年以来9.72%的历史百分位。</div>
<div class="a bl" style="left:76.5px;top:112.8px;letter-spacing:0"><b>Wind全A（除金融、石油石化）市净率：</b>至01月06日，Wind全A（除金融、石油石化）PB（LF）2.34倍，位于</div>
<div class="a bl" style="left:77px;top:131.3px">2000年以来30.35%的历史分位。</div>
<div class="a" style="left:147px;top:152px;font-size:9px;font-weight:bold;color:#1e3a70">图表5：wind全A市净率</div>
<div class="a" style="left:432.3px;top:152px;font-size:9px;font-weight:bold;color:#1e3a70;letter-spacing:0.12px">图表6：wind全A（剔除金融石油石化）市净率</div>
<div class="a" style="left:52px;top:358px;font-size:7px;color:#333">资料来源：WIND,太平洋证券研究院整理</div>
<div class="a" style="left:372px;top:357px;font-size:7px;color:#333">资料来源：WIND,太平洋证券研究院整理</div>
<div class="a" style="left:13.5px;top:381.5px;font-size:8.3px;line-height:12px;letter-spacing:1.1px;color:#222;font-family:'Liberation Serif',serif">请务必阅读正文之后的免责条款部分</div>
<div class="a" style="left:568.5px;top:381.5px;font-size:8.3px;line-height:12px;color:#222;font-family:'Liberation Serif',serif;letter-spacing:0.9px;word-spacing:1.2px">守正 出奇 宁静 致远</div>
<div class="a" style="left:662.5px;top:369.5px;width:27.5px;text-align:center;font-size:12.5px;line-height:18px;color:#fff;font-family:'Liberation Serif',serif">6</div>
<div id="band"></div>
<div class="tt1" style="top:165.5px"><span style="left:38.5px">历</span><span style="left:68.5px">史</span><span style="left:99.0px">上</span><span style="left:128.8px">的</span><span style="left:153.3px">1</span><span style="left:170.4px">2</span><span style="left:196.5px">月</span><span style="left:221.5px">1</span><span style="left:238.3px">4</span><span style="left:263.2px">日</span><span style="left:289.4px">P</span><span style="left:309.5px">X</span><span style="left:335.0px">行</span><span style="left:365.4px">情</span><span style="left:396.2px">实</span><span style="left:425.5px">时</span><span style="left:454.1px">全</span><span style="left:484.1px">球</span><span style="left:515.0px">，</span><span style="left:545.3px">全</span><span style="left:574.9px">面</span><span style="left:605.4px">评</span><span style="left:634.7px">测</span></div>
<div class="tt" style="top:202.8px">与深度分析</div>
</body></html>
